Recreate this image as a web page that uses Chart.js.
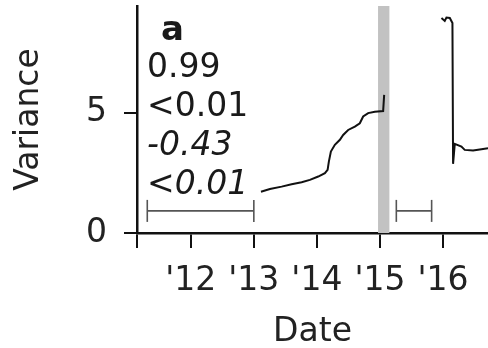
<!DOCTYPE html>
<html lang="en">
<head>
    <meta charset="UTF-8">
    <title>Variance</title>
    <script src="https://cdn.jsdelivr.net/npm/chart.js"></script>
    <style>
        body {
            margin: 0;
            padding: 0;
            background-color: #fff;
        }
        canvas {
            display: block;
        }
    </style>
</head>
<body>

<canvas id="varianceChart" width="488" height="348"></canvas>

<script>
    // Axis ranges and ticks (decimal years)
    var xMin = 2011.147;
    var xMax = 2016.714;
    var yMin = 0;
    var yMax = 9.45;
    var xTickYears = [2011.147, 2012, 2013, 2014, 2015, 2016];
    var xTickLabels = ['', "'12", "'13", "'14", "'15", "'16"];
    var yTicks = [0, 5];

    // Variance before the break
    var seg1Years = [2013.113, 2013.255, 2013.441, 2013.599, 2013.758, 2013.889, 2014.021, 2014.127,
        2014.170, 2014.190, 2014.222, 2014.285, 2014.365, 2014.417, 2014.496, 2014.602,
        2014.681, 2014.734, 2014.813, 2014.919, 2015.051, 2015.067];
    var seg1Values = [1.72, 1.83, 1.93, 2.03, 2.11, 2.21, 2.35, 2.49,
        2.63, 2.97, 3.39, 3.67, 3.88, 4.08, 4.29, 4.43,
        4.57, 4.85, 4.99, 5.05, 5.08, 5.75];

    // Variance after the break
    var seg2Years = [2015.976, 2016.028, 2016.055, 2016.108, 2016.150, 2016.160, 2016.187,
        2016.293, 2016.345, 2016.477, 2016.610, 2016.714, 2016.80];
    var seg2Values = [8.95, 8.83, 8.97, 8.95, 8.74, 2.88, 3.71,
        3.60, 3.46, 3.43, 3.49, 3.53, 3.56];

    // Estimation windows (start, end) and their height
    var windowStarts = [2011.31, 2015.26];
    var windowEnds = [2013.0, 2015.82];
    var windowLevel = 0.92;

    // Shaded break period
    var breakBand = [2014.97, 2015.15];

    // Statistics printed in the corner
    var statLines = ['0.99', '<0.01', '-0.43', '<0.01'];

    var FONT = "'DejaVu Sans', sans-serif";

    function toPoints(xs, ys) {
        return xs.map(function (x, i) { return {x: x, y: ys[i]}; });
    }

    var windowSets = windowStarts.map(function (s, i) {
        return {
            data: [{x: s, y: windowLevel}, {x: windowEnds[i], y: windowLevel}],
            borderColor: '#555',
            borderWidth: 1.6,
            pointStyle: 'line',
            rotation: 90,
            pointRadius: 11,
            pointBorderColor: '#555',
            pointBorderWidth: 1.6
        };
    });

    // shaded band behind the lines
    var bandPlugin = {
        id: 'bandPlugin',
        beforeDatasetsDraw: function (chart) {
            var ctx = chart.ctx;
            var x = chart.scales.x;
            var area = chart.chartArea;
            var x0 = x.getPixelForValue(breakBand[0]);
            var x1 = x.getPixelForValue(breakBand[1]);
            ctx.save();
            ctx.fillStyle = '#c2c2c2';
            ctx.fillRect(x0, area.top, x1 - x0, area.bottom - area.top);
            ctx.restore();
        }
    };

    // panel letter and statistics
    var textPlugin = {
        id: 'textPlugin',
        afterDraw: function (chart) {
            var ctx = chart.ctx;
            var left = chart.chartArea.left;
            ctx.save();
            ctx.fillStyle = '#1a1a1a';
            ctx.textBaseline = 'alphabetic';
            ctx.textAlign = 'left';
            ctx.font = 'bold 34px ' + FONT;
            ctx.fillText('a', left + 24, 40);

            var baselines = [77, 116, 155, 194];
            ctx.font = '33px ' + FONT;
            ctx.fillText(statLines[0], left + 10, baselines[0]);
            ctx.fillText(statLines[1], left + 10, baselines[1]);
            ctx.font = 'italic 33px ' + FONT;
            ctx.fillText(statLines[2], left + 10, baselines[2]);
            // "<" upright, number italic
            ctx.font = '33px ' + FONT;
            var lt = statLines[3].charAt(0);
            ctx.fillText(lt, left + 10, baselines[3]);
            var w = ctx.measureText(lt).width;
            ctx.font = 'italic 33px ' + FONT;
            ctx.fillText(statLines[3].slice(1), left + 10 + w, baselines[3]);
            ctx.restore();
        }
    };

    var ctx = document.getElementById('varianceChart').getContext('2d');
    var chart = new Chart(ctx, {
        type: 'line',
        data: {
            datasets: [{
                data: toPoints(seg1Years, seg1Values),
                borderColor: '#111',
                borderWidth: 2,
                pointRadius: 0,
                tension: 0
            }, {
                data: toPoints(seg2Years, seg2Values),
                borderColor: '#111',
                borderWidth: 2,
                pointRadius: 0,
                tension: 0
            }].concat(windowSets)
        },
        options: {
            responsive: false,
            animation: false,
            layout: {autoPadding: false, padding: {top: 6, left: 0, right: 0, bottom: 0}},
            plugins: {
                legend: {display: false},
                tooltip: {enabled: false}
            },
            scales: {
                x: {
                    type: 'linear',
                    min: xMin,
                    max: xMax,
                    afterBuildTicks: function (scale) {
                        scale.ticks = xTickYears.map(function (v) { return {value: v}; });
                    },
                    afterFit: function (scale) {
                        scale.height = 115;
                        scale.paddingLeft = 0;
                        scale.paddingRight = 0;
                    },
                    ticks: {
                        autoSkip: false,
                        maxRotation: 0,
                        padding: 14,
                        color: '#222',
                        font: {family: FONT, size: 33},
                        callback: function (value) {
                            var i = xTickYears.indexOf(value);
                            return i >= 0 ? xTickLabels[i] : '';
                        }
                    },
                    grid: {
                        drawOnChartArea: false,
                        drawTicks: true,
                        tickLength: 15,
                        color: '#111',
                        lineWidth: 2
                    },
                    border: {display: true, color: '#111', width: 2.5},
                    title: {
                        display: true,
                        text: 'Date',
                        color: '#222',
                        font: {family: FONT, size: 33},
                        padding: {top: 0, bottom: -4}
                    }
                },
                y: {
                    min: yMin,
                    max: yMax,
                    afterBuildTicks: function (scale) {
                        scale.ticks = yTicks.map(function (v) { return {value: v}; });
                    },
                    afterFit: function (scale) {
                        scale.width = 137;
                        scale.paddingTop = 0;
                        scale.paddingBottom = 0;
                    },
                    ticks: {
                        padding: 17,
                        color: '#222',
                        font: {family: FONT, size: 33}
                    },
                    grid: {
                        drawOnChartArea: false,
                        drawTicks: true,
                        tickLength: 13,
                        color: '#111',
                        lineWidth: 2
                    },
                    border: {display: true, color: '#111', width: 2.5},
                    title: {
                        display: true,
                        text: 'Variance',
                        color: '#222',
                        font: {family: FONT, size: 33},
                        padding: {top: 10, bottom: 0}
                    }
                }
            }
        },
        plugins: [bandPlugin, textPlugin]
    });
</script>
</body>
</html>
